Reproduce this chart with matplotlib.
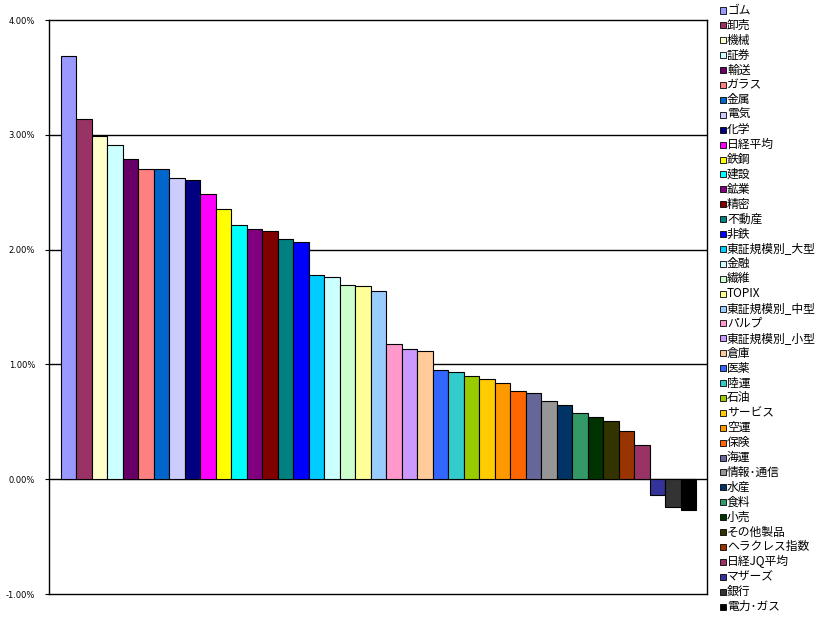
import matplotlib
matplotlib.use("Agg")
import matplotlib.pyplot as plt
from matplotlib.patches import Rectangle
from matplotlib.ticker import FuncFormatter

plt.rcParams['font.family'] = ['Noto Sans CJK JP', 'DejaVu Sans']

names = ['ゴム', '卸売', '機械', '証券', '輸送', 'ガラス', '金属', '電気', '化学', '日経平均',
         '鉄鋼', '建設', '鉱業', '精密', '不動産', '非鉄', '東証規模別_大型', '金融', '繊維', 'TOPIX',
         '東証規模別_中型', 'パルプ', '東証規模別_小型', '倉庫', '医薬', '陸運', '石油', 'サービス', '空運', '保険',
         '海運', '情報･通信', '水産', '食料', '小売', 'その他製品', 'ヘラクレス指数', '日経JQ平均', 'マザーズ', '銀行',
         '電力･ガス']

# daily change, %
values = [3.69, 3.14, 2.99, 2.91, 2.79, 2.70, 2.70, 2.62, 2.61, 2.48,
          2.35, 2.21, 2.18, 2.16, 2.09, 2.07, 1.775, 1.758, 1.688, 1.679,
          1.636, 1.174, 1.133, 1.113, 0.953, 0.930, 0.895, 0.877, 0.834, 0.764,
          0.747, 0.677, 0.642, 0.581, 0.538, 0.503, 0.416, 0.302, -0.14, -0.238,
          -0.267]

colors = ['#9999FF', '#993366', '#FFFFCC', '#CCFFFF', '#660066', '#FF8080', '#0066CC', '#CCCCFF', '#000080', '#FF00FF',
          '#FFFF00', '#00FFFF', '#800080', '#800000', '#008080', '#0000FF', '#00CCFF', '#CCFFFF', '#CCFFCC', '#FFFF99',
          '#99CCFF', '#FF99CC', '#CC99FF', '#FFCC99', '#3366FF', '#33CCCC', '#99CC00', '#FFCC00', '#FF9900', '#FF6600',
          '#666699', '#969696', '#003366', '#339966', '#003300', '#333300', '#993300', '#993366', '#333399', '#333333',
          '#000000']

W, H = 831, 622
fig = plt.figure(figsize=(W / 100, H / 100), dpi=100)
ax = fig.add_axes([49 / W, 1 - 594 / H, (707 - 49) / W, (594 - 20) / H])

x = list(range(len(values)))
ax.bar(x, values, width=1.0, color=colors, edgecolor='black', linewidth=0.8, zorder=3)

ax.set_ylim(-1, 4)
ax.set_xlim(-0.5 - 0.75, len(values) - 0.5 + 0.68)
ax.set_yticks([-1, 0, 1, 2, 3, 4])
ax.yaxis.set_major_formatter(FuncFormatter(lambda v, p: '%.2f%%' % v))
ax.tick_params(axis='y', direction='out', length=3, width=0.8, labelsize=6, pad=7)
for lab in ax.get_yticklabels():
    lab.set_family('DejaVu Sans')
ax.set_xticks([])
for v in [0, 1, 2, 3]:
    ax.axhline(v, color='black', linewidth=1, zorder=2)
for s in ax.spines.values():
    s.set_linewidth(1)
    s.set_color('black')

# legend, one entry per bar
top, step = 10.5, 14.9
for i, (n, c) in enumerate(zip(names, colors)):
    yc = top + i * step
    fig.add_artist(Rectangle(((719.5) / W, 1 - (yc + 3) / H), 6 / W, 6 / H,
                             facecolor=c, edgecolor='black', linewidth=0.6,
                             transform=fig.transFigure))
    fig.text(727 / W, 1 - yc / H, n, fontsize=8.5, va='center', ha='left')

fig.savefig('out.png', dpi=100)
